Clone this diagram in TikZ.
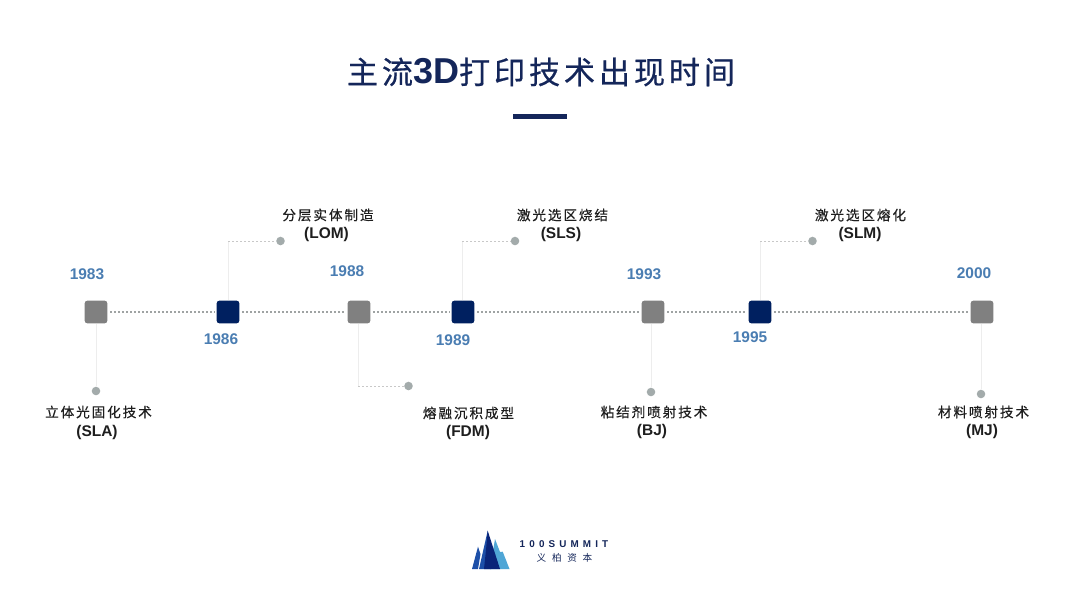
\documentclass[tikz,border=0pt]{standalone}
\usepackage{fontspec}
\setmainfont{Liberation Sans}
\newfontfamily\cjktitle[LetterSpace=12.6,FakeBold=0.6]{Noto Sans CJK SC}
\newfontfamily\cjklabel[LetterSpace=14,FakeBold=0.4]{Noto Sans CJK SC}
\newfontfamily\cjklogo[LetterSpace=60]{Noto Sans CJK SC}
\newfontfamily\latlogo[LetterSpace=42]{Liberation Sans}
\definecolor{navy}{HTML}{002060}
\definecolor{titlecol}{HTML}{14265A}
\definecolor{stepgrey}{HTML}{808080}
\definecolor{yearblue}{HTML}{4A7DB2}
\definecolor{dotgrey}{HTML}{A3ABAB}
\definecolor{linegrey}{HTML}{9FA3A3}
\definecolor{palel}{HTML}{EDEDED}
\definecolor{paled}{HTML}{C8C8C8}
\definecolor{labelcol}{HTML}{1E1E1E}
\definecolor{logolight}{HTML}{4FA6D6}
\definecolor{logomid}{HTML}{1D4FA8}
\definecolor{logodark}{HTML}{0A2478}
\tikzset{
  px/.style={x=0.75pt,y=-0.75pt},
  greybox/.style={rectangle,rounded corners=2pt,fill=stepgrey,minimum size=17pt,inner sep=0pt},
  navybox/.style={rectangle,rounded corners=2pt,fill=navy,minimum size=17pt,inner sep=0pt},
  enddot/.style={circle,fill=dotgrey,minimum size=6.4pt,inner sep=0pt},
  yearlabel/.style={font=\bfseries\fontsize{11.6}{13}\selectfont,text=yearblue,inner sep=0pt},
  cnlabel/.style={font=\cjklabel\fontsize{10.2}{12}\selectfont,text=labelcol,inner sep=0pt},
  enlabel/.style={font=\bfseries\fontsize{11.6}{13}\selectfont,text=labelcol,inner sep=0pt},
  timeline/.style={draw=linegrey,line width=1.8pt,dash pattern=on 1.5pt off 1.5pt,shorten <=2pt,shorten >=1pt},
  stem/.style={draw=palel,line width=0.7pt},
  lead/.style={draw=paled,line width=0.7pt,dash pattern=on 1.5pt off 1.5pt},
}
\begin{document}
\begin{tikzpicture}[px]
\useasboundingbox[fill=white] (0,0) rectangle (1080,607);
% title
\node[inner sep=0pt,text=titlecol] (title) at (541,72)
  {\cjktitle\fontsize{23.3}{26}\selectfont 主流{\normalfont\bfseries\fontsize{27}{28}\selectfont 3D}打印技术出现时间};
\fill[titlecol] (513,113.5) rectangle (567,119);
% timeline
\node[greybox] (n83) at (96,312) {};
\node[navybox] (n86) at (228,312) {};
\node[greybox] (n88) at (359,312) {};
\node[navybox] (n89) at (463,312) {};
\node[greybox] (n93) at (653,312) {};
\node[navybox] (n95) at (760,312) {};
\node[greybox] (n00) at (982,312) {};
\draw[timeline] (n83.east) -- (n86.west);
\draw[timeline] (n86.east) -- (n88.west);
\draw[timeline] (n88.east) -- (n89.west);
\draw[timeline] (n89.east) -- (n93.west);
\draw[timeline] (n93.east) -- (n95.west);
\draw[timeline] (n95.east) -- (n00.west);
% years
\node[yearlabel] (y83) at (87,274) {1983};
\node[yearlabel] (y86) at (221,339) {1986};
\node[yearlabel] (y88) at (347,271) {1988};
\node[yearlabel] (y89) at (453,340) {1989};
\node[yearlabel] (y93) at (644,274) {1993};
\node[yearlabel] (y95) at (750,337) {1995};
\node[yearlabel] (y00) at (974,273) {2000};
% end dots
\node[enddot] (d83) at (96,391) {};
\node[enddot] (d86) at (280.5,241) {};
\node[enddot] (d88) at (408.5,386) {};
\node[enddot] (d89) at (515,241) {};
\node[enddot] (d93) at (651,392) {};
\node[enddot] (d95) at (812.5,241) {};
\node[enddot] (d00) at (981,394) {};
% bends
\coordinate (b86) at (228,241);
\coordinate (b88) at (358,386);
\coordinate (b89) at (462,241);
\coordinate (b95) at (760,241);
% connectors
\draw[stem] (n83.south) -- (d83.north);
\draw[stem] (n86.north) -- (b86);
\draw[lead] (b86) -- (d86.west);
\draw[stem] (b88 |- n88.south) -- (b88);
\draw[lead] (b88) -- (d88.west);
\draw[stem] (b89 |- n89.north) -- (b89);
\draw[lead] (b89) -- (d89.west);
\draw[stem] (d93.north |- n93.south) -- (d93.north);
\draw[stem] (n95.north) -- (b95);
\draw[lead] (b95) -- (d95.west);
\draw[stem] (d00.north |- n00.south) -- (d00.north);
% labels
\node[cnlabel] (c83) at (98.5,412) {立体光固化技术};
\node[enlabel] (e83) at (97,432) {(SLA)};
\node[cnlabel] (c86) at (328,215) {分层实体制造};
\node[enlabel] (e86) at (326.5,234) {(LOM)};
\node[cnlabel] (c88) at (468.5,413) {熔融沉积成型};
\node[enlabel] (e88) at (468,432) {(FDM)};
\node[cnlabel] (c89) at (562.5,215) {激光选区烧结};
\node[enlabel] (e89) at (561,234) {(SLS)};
\node[cnlabel] (c93) at (654,412) {粘结剂喷射技术};
\node[enlabel] (e93) at (652,431) {(BJ)};
\node[cnlabel] (c95) at (860.5,215) {激光选区熔化};
\node[enlabel] (e95) at (860,234) {(SLM)};
\node[cnlabel] (c00) at (983.5,412) {材料喷射技术};
\node[enlabel] (e00) at (982,431) {(MJ)};
% logo
\fill[logolight] (490,569) -- (495,539) -- (500,552) -- (502.7,551.7) -- (509.5,569) -- cycle;
\fill[logomid] (479,569) -- (487.7,530.7) -- (491,569) -- cycle;
\fill[logodark] (484,569) -- (486,550) -- (487.7,530.7) -- (500,569) -- cycle;
\fill[logomid] (472,569) -- (478,546.7) -- (480.5,554) -- (478,569) -- cycle;
\node[inner sep=0pt,text=titlecol] (logoa) at (564,544.5)
  {\latlogo\bfseries\fontsize{7.4}{8}\selectfont 100SUMMIT};
\node[inner sep=0pt,text=titlecol] (logob) at (564.5,558)
  {\cjklogo\fontsize{7.2}{8}\selectfont 义柏资本};
\end{tikzpicture}
\end{document}
